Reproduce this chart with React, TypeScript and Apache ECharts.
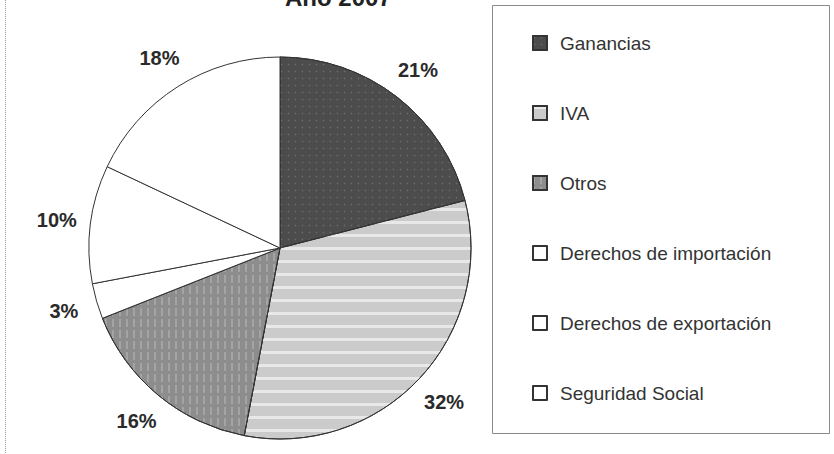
import React, { useEffect, useRef } from 'react';
import * as echarts from 'echarts';

const titleText = 'Año 2007';
const categories = [
  'Ganancias',
  'IVA',
  'Otros',
  'Derechos de importación',
  'Derechos de exportación',
  'Seguridad Social',
];
const values = [21, 32, 16, 3, 10, 18];
const colors = ['#4c4c4c', '#cbcbcb', '#8d8d8d', '#ffffff', '#ffffff', '#ffffff'];

const FONT = '"Liberation Sans", Arial, sans-serif';

const decals: any[] = [
  { symbol: 'circle', symbolSize: 0.5, dashArrayX: [[3, 4]], dashArrayY: [3, 4], color: 'rgba(255,255,255,0.18)' },
  { symbol: 'rect', symbolSize: 1, dashArrayX: [1, 0], dashArrayY: [3, 10], color: 'rgba(255,255,255,0.55)' },
  { symbol: 'rect', symbolSize: 1, dashArrayX: [[2, 5]], dashArrayY: [8, 3], color: 'rgba(255,255,255,0.2)' },
  'none',
  'none',
  'none',
];

export default function App() {
  const ref = useRef<HTMLDivElement>(null);
  useEffect(() => {
    if (!ref.current) return;
    const chart = echarts.init(ref.current, null, { renderer: 'svg' });
    const pieData = categories.map((name, i) => ({
      name,
      value: values[i],
      itemStyle: {
        color: colors[i],
        decal: decals[i] === 'none' ? undefined : decals[i],
      },
    }));
    const labelData = categories.map((name, i) => ({ name, value: values[i] }));
    chart.setOption({
      animation: false,
      backgroundColor: '#ffffff',
      aria: { enabled: false, decal: { show: true } },
      title: {
        text: titleText,
        left: 285,
        top: -15,
        padding: 0,
        textStyle: { fontFamily: FONT, fontSize: 24, fontWeight: 'bold', color: '#222' },
      },
      legend: {
        orient: 'vertical',
        left: 532,
        top: 33,
        padding: 0,
        itemWidth: 14,
        itemHeight: 14,
        itemGap: 50,
        icon: 'rect',
        selectedMode: false,
        data: categories,
        textStyle: {
          fontFamily: FONT,
          fontSize: 19,
          color: '#333',
          lineHeight: 20,
          padding: [0, 0, 0, 8],
        },
      },
      graphic: [
        {
          type: 'rect',
          shape: { x: 492.5, y: 5.5, width: 337, height: 428 },
          style: { fill: 'none', stroke: '#8a8a8a', lineWidth: 1 },
          silent: true,
        },
        {
          type: 'line',
          shape: { x1: 5.5, y1: 0, x2: 5.5, y2: 454 },
          style: { stroke: '#9a9a9a', lineWidth: 1, lineDash: [1, 1] },
          silent: true,
        },
      ],
      series: [
        {
          type: 'pie',
          center: [280, 248],
          radius: [0, 191],
          startAngle: 90,
          clockwise: true,
          silent: true,
          label: { show: false },
          labelLine: { show: false },
          itemStyle: { borderColor: '#333', borderWidth: 1 },
          emphasis: { disabled: true },
          data: pieData,
        },
        {
          type: 'pie',
          center: [280, 248],
          radius: [191, 253],
          startAngle: 90,
          clockwise: true,
          silent: true,
          itemStyle: { color: 'rgba(0,0,0,0)', borderWidth: 0 },
          label: {
            show: true,
            position: 'inside',
            formatter: '{c}%',
            fontFamily: FONT,
            fontSize: 20,
            fontWeight: 'bold',
            color: '#2a2a2a',
          },
          labelLine: { show: false },
          emphasis: { disabled: true },
          data: labelData,
        },
      ],
    });
    return () => chart.dispose();
  }, []);
  return (
    <div
      ref={ref}
      style={{ position: 'absolute', left: 0, top: 0, width: 834, height: 454 }}
    />
  );
}
